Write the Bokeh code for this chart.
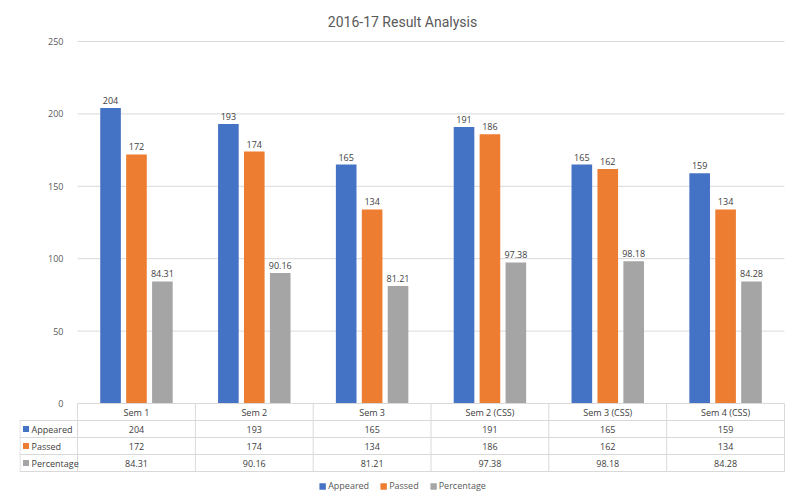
from bokeh.plotting import figure
from bokeh.models import Range1d, FixedTicker, Legend, LegendItem, ColumnDataSource
from bokeh.embed import file_html
from bokeh.resources import INLINE
from bokeh.core.properties import value

# ---- data ----
categories = ["Sem 1", "Sem 2", "Sem 3", "Sem 2 (CSS)", "Sem 3 (CSS)", "Sem 4 (CSS)"]
appeared = [204, 193, 165, 191, 165, 159]
passed = [172, 174, 134, 186, 162, 134]
percentage = [84.31, 90.16, 81.21, 97.38, 98.18, 84.28]
series_names = ["Appeared", "Passed", "Percentage"]
y_ticks = [0, 50, 100, 150, 200, 250]
title_text = "2016-17 Result Analysis"

series = [appeared, passed, percentage]
fmt = ["{:d}", "{:d}", "{:.2f}"]
colors = ["#4472C4", "#ED7D31", "#A5A5A5"]
offsets = [-0.22, 0.0, 0.22]
n = len(categories)
xs = [i + 0.5 for i in range(n)]

FONT_NAME = "Open Sans"
FONT = value(FONT_NAME)
TXT = "#404040"
AX = "#595959"
GRID = "#D9D9D9"
FS = "9px"

# ---- geometry ----
W, H = 800, 496
top_b = 40
frame_h = H - top_b
ppu_y = 362 / 250.0            # pixels per y unit
row_h = 17 / ppu_y             # table row height in y units
y_end = max(y_ticks) + 1 / ppu_y
y_start = y_end - frame_h / ppu_y
col_px = 117.7
x0 = -58 / col_px
x_end = n + 1 / col_px

p = figure(width=W, height=H, x_range=Range1d(x0, x_end), y_range=Range1d(y_start, y_end),
           output_backend="svg", toolbar_location=None,
           min_border_left=19, min_border_right=15, min_border_top=top_b,
           min_border_bottom=0, title=title_text)
p.title.align = "center"
p.title.text_font = "Roboto"
p.title.text_font_size = "14px"
p.title.text_font_style = "normal"
p.title.text_color = AX
p.title.standoff = 22
p.outline_line_color = None
p.xaxis.visible = False
p.grid.visible = False

p.yaxis.ticker = FixedTicker(ticks=y_ticks)
p.yaxis.axis_line_color = None
p.yaxis.major_tick_line_color = None
p.yaxis.minor_tick_line_color = None
p.yaxis.major_tick_out = 0
p.yaxis.major_label_standoff = -44
p.yaxis.major_label_text_font = FONT_NAME
p.yaxis.major_label_text_font_size = FS
p.yaxis.major_label_text_color = AX

# gridlines across the category area
gy = [t for t in y_ticks if t > 0]
p.segment(x0=[0] * len(gy), y0=gy, x1=[n] * len(gy), y1=gy, line_color=GRID, line_width=1)

# bars + labels
for k in range(3):
    src = ColumnDataSource(dict(
        x=[x + offsets[k] for x in xs],
        top=series[k],
        label=[fmt[k].format(v) for v in series[k]],
    ))
    p.vbar(x="x", top="top", bottom=0, width=0.175, source=src,
           fill_color=colors[k], line_color=None)
    p.text(x="x", y="top", text="label", source=src, text_align="center",
           text_baseline="bottom", y_offset=-4, text_font=FONT,
           text_font_size=FS, text_color=TXT)

# ---- data table below the axis ----
row_y = [-(i + 0.5) * row_h for i in range(4)]      # header, Appeared, Passed, Percentage
lines_y = [-(i) * row_h for i in range(5)]
hx0 = [0] + [x0] * 4
p.segment(x0=hx0, y0=lines_y, x1=[n] * 5, y1=lines_y, line_color=GRID, line_width=1)
vx = [x0 + 0.5 / col_px] + list(range(n + 1))
vy0 = [-row_h] + [0] * (n + 1)
vy1 = [-4 * row_h] * (n + 2)
p.segment(x0=vx, y0=vy0, x1=vx, y1=vy1, line_color=GRID, line_width=1)

p.text(x=xs, y=[row_y[0]] * n, text=categories, text_align="center", text_baseline="middle",
       text_font=FONT, text_font_size=FS, text_color=TXT)

items = []
for k in range(3):
    yk = row_y[k + 1]
    p.text(x=xs, y=[yk] * n, text=[fmt[k].format(v) for v in series[k]],
           text_align="center", text_baseline="middle",
           text_font=FONT, text_font_size=FS, text_color=TXT)
    p.text(x=[x0 + 12 / col_px], y=[yk], text=[series_names[k]], text_align="left",
           text_baseline="middle", text_font=FONT, text_font_size=FS, text_color=TXT)
    r = p.rect(x=[x0 + 6.5 / col_px], y=[yk], width=6, height=6, width_units="screen",
               height_units="screen", fill_color=colors[k], line_color=None)
    items.append(LegendItem(label=series_names[k], renderers=[r]))

legend = Legend(items=items, orientation="horizontal", location="bottom_center",
                border_line_color=None, background_fill_alpha=0,
                label_text_font=FONT_NAME, label_text_font_size=FS, label_text_color=AX,
                glyph_width=8, glyph_height=8, label_height=8, label_standoff=2,
                spacing=10, margin=4, padding=2)
p.add_layout(legend)

open("out.html", "w").write(file_html(p, INLINE))
